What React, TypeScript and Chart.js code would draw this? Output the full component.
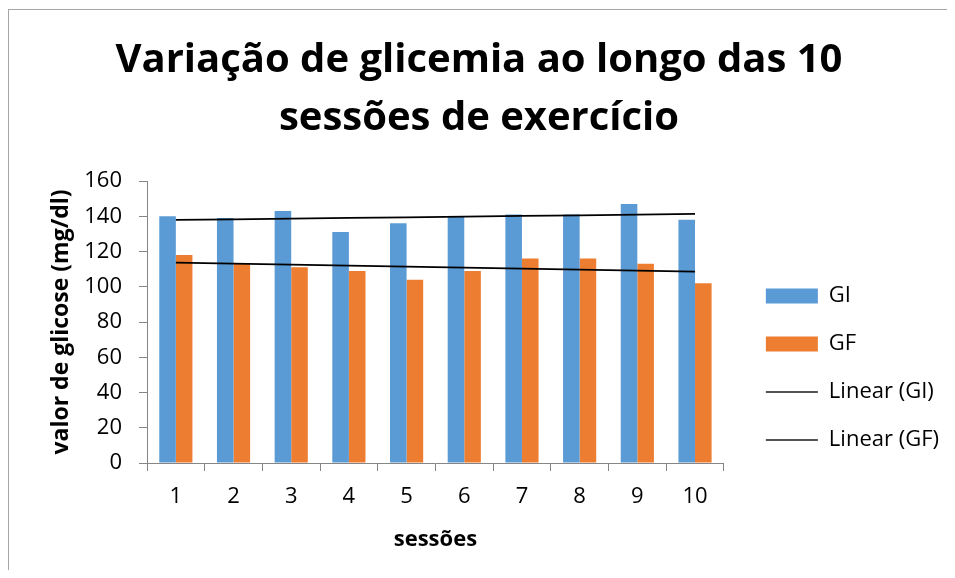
import React, { useEffect, useRef } from 'react';
import { Chart, registerables } from 'chart.js';

Chart.register(...registerables);

const sessions = ['1', '2', '3', '4', '5', '6', '7', '8', '9', '10'];
const giValues = [140, 139, 143, 131, 136, 140, 141, 141, 147, 138];
const gfValues = [118, 113, 111, 109, 104, 109, 116, 116, 113, 102];
const yMin = 0;
const yMax = 160;
const yStep = 20;
const chartTitle = ['Variação de glicemia ao longo das 10', 'sessões de exercício'];
const yAxisTitle = 'valor de glicose (mg/dl)';
const xAxisTitle = 'sessões';
const seriesNames = ['GI', 'GF', 'Linear (GI)', 'Linear (GF)'];

function linearTrend(values: number[]): number[] {
  const n = values.length;
  const xs = values.map((_, i) => i + 1);
  const mx = xs.reduce((a, b) => a + b, 0) / n;
  const my = values.reduce((a, b) => a + b, 0) / n;
  let sxy = 0;
  let sxx = 0;
  for (let i = 0; i < n; i++) {
    sxy += (xs[i] - mx) * (values[i] - my);
    sxx += (xs[i] - mx) * (xs[i] - mx);
  }
  const slope = sxy / sxx;
  const icpt = my - slope * mx;
  return xs.map((x) => icpt + slope * x);
}

const FONT = "'Open Sans', sans-serif";
const AXIS_GRAY = '#868686';

export default function App() {
  const ref = useRef<HTMLCanvasElement | null>(null);

  useEffect(() => {
    if (!ref.current) return;
    Chart.defaults.font.family = FONT;
    const chart = new Chart(ref.current, {
      type: 'bar',
      data: {
        labels: sessions,
        datasets: [
          {
            type: 'bar',
            label: seriesNames[0],
            data: giValues,
            backgroundColor: '#5B9BD5',
            borderWidth: 0,
            order: 1,
            categoryPercentage: 0.575,
            barPercentage: 1.0,
          },
          {
            type: 'bar',
            label: seriesNames[1],
            data: gfValues,
            backgroundColor: '#ED7D31',
            borderWidth: 0,
            order: 1,
            categoryPercentage: 0.575,
            barPercentage: 1.0,
          },
          {
            type: 'line',
            label: seriesNames[2],
            data: linearTrend(giValues),
            borderColor: '#000000',
            backgroundColor: '#000000',
            borderWidth: 1.75,
            pointRadius: 0,
            fill: false,
            order: 0,
          },
          {
            type: 'line',
            label: seriesNames[3],
            data: linearTrend(gfValues),
            borderColor: '#000000',
            backgroundColor: '#000000',
            borderWidth: 1.75,
            pointRadius: 0,
            fill: false,
            order: 0,
          },
        ],
      } as any,
      options: {
        animation: false,
        responsive: false,
        maintainAspectRatio: false,
        devicePixelRatio: 1,
        layout: { padding: { left: 0, right: 22, top: 0, bottom: 0 } },
        plugins: {
          tooltip: { enabled: false },
          title: {
            display: true,
            text: chartTitle,
            color: '#000',
            font: { family: FONT, size: 40, weight: 'bold', lineHeight: 1.45 },
            padding: { top: 22, bottom: 33 },
          },
          legend: {
            display: true,
            position: 'right',
            align: 'center',
            fullSize: true,
            maxWidth: 400,
            title: {
              display: true,
              text: ' ',
              font: { size: 10, lineHeight: 1 },
              padding: { top: 145, bottom: 0 },
            },
            labels: {
              usePointStyle: true,
              pointStyleWidth: 52,
              boxHeight: 15,
              padding: 26,
              color: '#000',
              font: { family: FONT, size: 22 },
              generateLabels: (ch: any) => {
                return ch.data.datasets.map((ds: any, i: number) => {
                  const isBar = i < 2;
                  return {
                    text: ds.label,
                    datasetIndex: i,
                    fillStyle: isBar ? ds.backgroundColor : 'rgba(0,0,0,0)',
                    strokeStyle: isBar ? ds.backgroundColor : '#1a1a1a',
                    lineWidth: isBar ? 0 : 1.5,
                    pointStyle: isBar ? 'rect' : 'line',
                    hidden: false,
                    fontColor: '#000',
                  };
                });
              },
            },
          },
        },
        scales: {
          x: {
            type: 'category',
            position: 'bottom',
            offset: true,
            grid: {
              display: true,
              offset: true,
              drawOnChartArea: false,
              drawTicks: true,
              tickLength: 8,
              color: AXIS_GRAY,
            },
            border: { display: true, color: AXIS_GRAY, width: 1 },
            ticks: {
              color: '#000',
              font: { family: FONT, size: 22 },
              padding: 13,
              maxRotation: 0,
              autoSkip: false,
            },
            title: {
              display: true,
              text: xAxisTitle,
              color: '#000',
              font: { family: FONT, size: 22, weight: 'bold' },
              padding: { top: 0, bottom: 18 },
            },
            afterFit: (s: any) => {
              s.height = 108;
            },
          },
          y: {
            type: 'linear',
            position: 'left',
            min: yMin,
            max: yMax,
            grid: {
              display: true,
              drawOnChartArea: false,
              drawTicks: true,
              tickLength: 8,
              color: AXIS_GRAY,
            },
            border: { display: true, color: AXIS_GRAY, width: 1 },
            ticks: {
              stepSize: yStep,
              color: '#000',
              font: { family: FONT, size: 22 },
              padding: 17,
            },
            title: {
              display: true,
              text: yAxisTitle,
              color: '#000',
              font: { family: FONT, size: 23, weight: 'bold' },
              padding: { top: 39, bottom: 0 },
            },
            afterFit: (s: any) => {
              s.width = 138;
            },
          },
          yR: {
            type: 'linear',
            position: 'right',
            display: true,
            grid: { display: false },
            border: { display: false },
            ticks: { display: false },
            afterFit: (s: any) => {
              s.width = 16;
            },
          },
        },
      } as any,
    });
    return () => chart.destroy();
  }, []);

  return (
    <div
      style={{
        position: 'relative',
        top: 1,
        width: 947,
        height: 562,
        overflow: 'hidden',
        borderTop: '1px solid #a6a6a6',
        borderLeft: '1px solid #a6a6a6',
        boxSizing: 'border-box',
        background: '#fff',
      }}
    >
      <div style={{ width: 962, height: 561 }}>
        <canvas ref={ref} width={962} height={561} style={{ display: 'block' }} />
      </div>
    </div>
  );
}
